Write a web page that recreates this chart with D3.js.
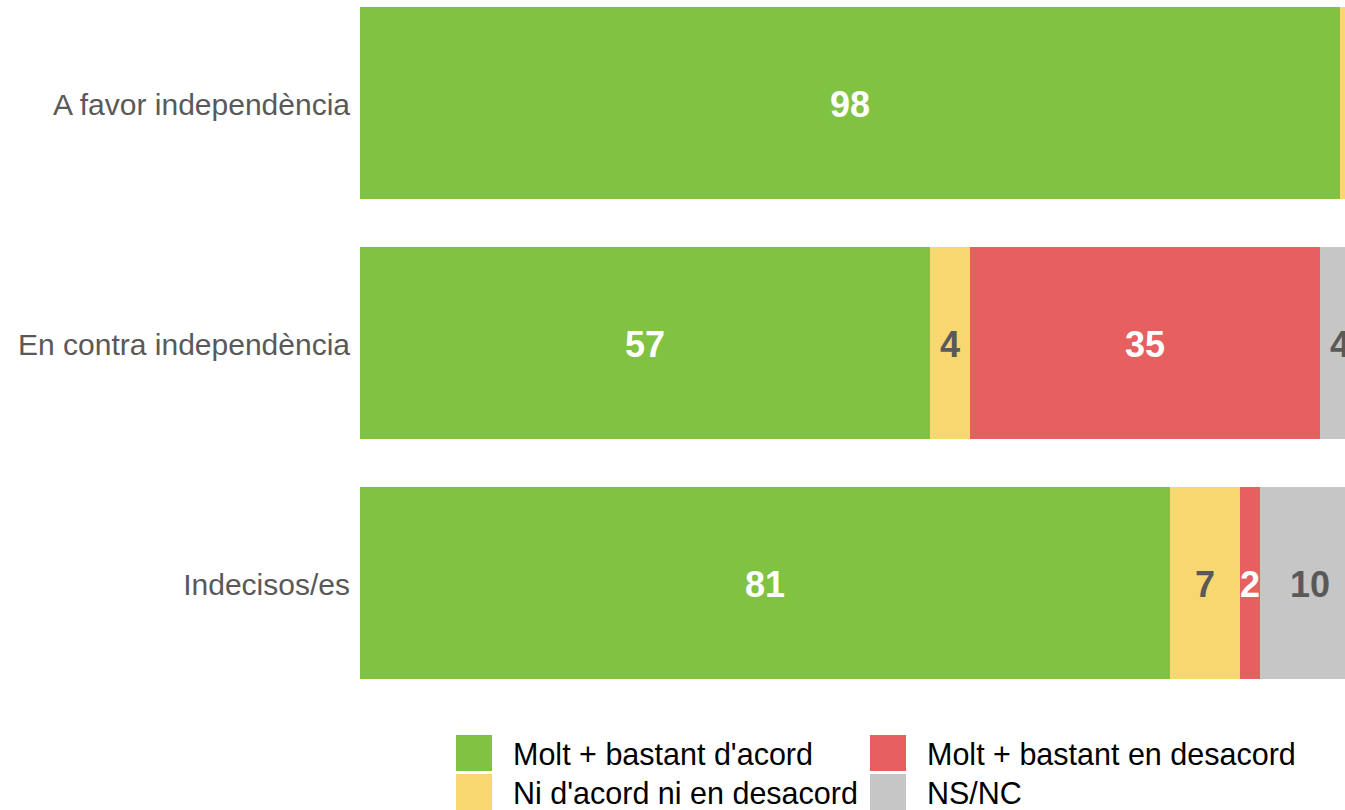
<!DOCTYPE html>
<html>
<head>
<meta charset="utf-8">
<script src="https://cdn.jsdelivr.net/npm/d3@7"></script>
<style>
  html, body { margin: 0; padding: 0; background: #fff; overflow: hidden; }
  svg { display: block; font-family: "Liberation Sans", Arial, sans-serif; }
</style>
</head>
<body>
<div id="chart"></div>
<script>
// groups (y axis) and answer categories (stack order)
var groups = ["A favor independència", "En contra independència", "Indecisos/es"];
var answers = ["Molt + bastant d'acord", "Ni d'acord ni en desacord", "Molt + bastant en desacord", "NS/NC"];

// one array per answer, values in % per group
var acord     = [98, 57, 81];
var niNi      = [1, 4, 7];
var desacord  = [0, 35, 2];
var nsnc      = [1, 4, 10];

var colors = ["#80c241", "#f8d771", "#e66060", "#c6c6c6"];
var labelColors = ["#ffffff", "#595959", "#ffffff", "#595959"];

var width = 1345, height = 810;

// build rows for the stack
var rows = groups.map(function(g, i) {
    var r = { group: g };
    r[answers[0]] = acord[i];
    r[answers[1]] = niNi[i];
    r[answers[2]] = desacord[i];
    r[answers[3]] = nsnc[i];
    return r;
});

var series = d3.stack().keys(answers)(rows);

// chart is wider than the window, so last bar runs off the right edge
var x = d3.scaleLinear()
    .domain([0, 100])
    .range([360, 1360]);

var y = d3.scaleBand()
    .domain(groups)
    .range([-17, 703])
    .paddingInner(0.2)
    .paddingOuter(0.1);

var svg = d3.select("#chart").append("svg")
    .attr("width", width)
    .attr("height", height);

var layer = svg.selectAll("g.layer")
    .data(series)
    .enter().append("g")
    .attr("class", "layer")
    .attr("fill", function(d, i) { return colors[i]; });

layer.selectAll("rect")
    .data(function(d) { return d; })
    .enter().append("rect")
    .attr("x", function(d) { return x(d[0]); })
    .attr("y", function(d) { return y(d.data.group); })
    .attr("width", function(d) { return x(d[1]) - x(d[0]); })
    .attr("height", y.bandwidth());

// value labels, hide tiny segments
layer.selectAll("text")
    .data(function(d, i) { return d.map(function(p) { p.k = i; return p; }); })
    .enter().filter(function(d) { return d[1] - d[0] >= 2; })
    .append("text")
    .attr("x", function(d) { return x((d[0] + d[1]) / 2); })
    .attr("y", function(d) { return y(d.data.group) + y.bandwidth() / 2; })
    .attr("dy", "0.38em")
    .attr("text-anchor", "middle")
    .attr("font-size", 36)
    .attr("font-weight", "bold")
    .attr("fill", function(d) { return labelColors[d.k]; })
    .text(function(d) { return d[1] - d[0]; });

// category axis, no line or ticks
var yAxis = svg.append("g")
    .attr("transform", "translate(360,0)")
    .call(d3.axisLeft(y).tickSize(0).tickPadding(10));
yAxis.select(".domain").remove();
yAxis.selectAll("text")
    .attr("font-size", 30)
    .attr("dy", "0.4em")
    .attr("font-family", "Liberation Sans, Arial, sans-serif")
    .attr("fill", "#595959");

// legend, two columns
var legend = svg.append("g");
var item = legend.selectAll("g")
    .data(answers)
    .enter().append("g")
    .attr("transform", function(d, i) {
        var col = i < 2 ? 0 : 1, row = i % 2;
        return "translate(" + (456 + col * 414) + "," + (735 + row * 39) + ")";
    });
item.append("rect")
    .attr("width", 36)
    .attr("height", 36)
    .attr("fill", function(d, i) { return colors[i]; });
item.append("text")
    .attr("x", 57)
    .attr("y", 19)
    .attr("dy", "0.36em")
    .attr("font-size", 30.5)
    .attr("fill", "#000")
    .text(function(d) { return d; });
</script>
</body>
</html>
